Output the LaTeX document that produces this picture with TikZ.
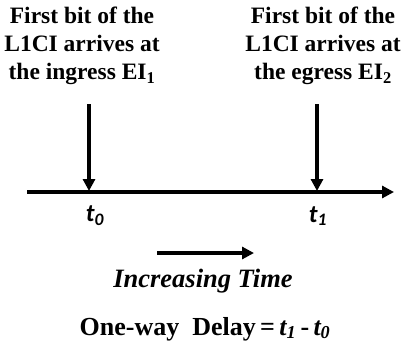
\documentclass[tikz,border=0pt]{standalone}
\usepackage{fontspec}
\setmainfont{Liberation Serif}
\newfontfamily\calibfont{Carlito}
\usetikzlibrary{arrows.meta,positioning}

\begin{document}
\begin{tikzpicture}[
    x=1pt, y=-1pt,
    event/.style={align=center, font=\fontsize{23.5}{28}\selectfont\bfseries},
    tick/.style={font=\fontsize{25}{28}\calibfont\bfseries\itshape},
    arrow/.style={-{Triangle[length=12pt,width=12pt]}, line width=3.2pt},
    note/.style={font=\fontsize{26}{30}\selectfont\bfseries}
]
\useasboundingbox (0,0) rectangle (401,354);
% events
\node[event] (ingress) at (82,46) {First bit of the\\L1CI arrives at\\the ingress EI\textsubscript{1}};
\node[event] (egress) at (323,46) {First bit of the\\L1CI arrives at\\the egress EI\textsubscript{2}};
\coordinate (a0) at (89,104);
\coordinate (a1) at (317,104);
% time axis
\coordinate (axL) at (27,192);
\coordinate (axR) at (394,192);
\coordinate (m0) at (89,191);
\coordinate (m1) at (317,191);
\draw[arrow] (axL) -- (axR);
\draw[arrow] (a0) -- (m0);
\draw[arrow] (a1) -- (m1);
\node[tick] (t0) at (95,216) {t\textsubscript{0}};
\node[tick] (t1) at (318,216) {t\textsubscript{1}};
% direction of time
\coordinate (d0) at (157,253);
\coordinate (d1) at (254,253);
\draw[arrow] (d0) -- (d1);
\node[note, font=\fontsize{26.5}{30}\selectfont\bfseries\itshape] (inc) at (203,281) {Increasing Time};
\node[note] (delay) at (205,329) {One-way\ \ Delay\,=\,\textit{t\textsubscript{1}}\,-\,\textit{t\textsubscript{0}}};
\end{tikzpicture}
\end{document}
